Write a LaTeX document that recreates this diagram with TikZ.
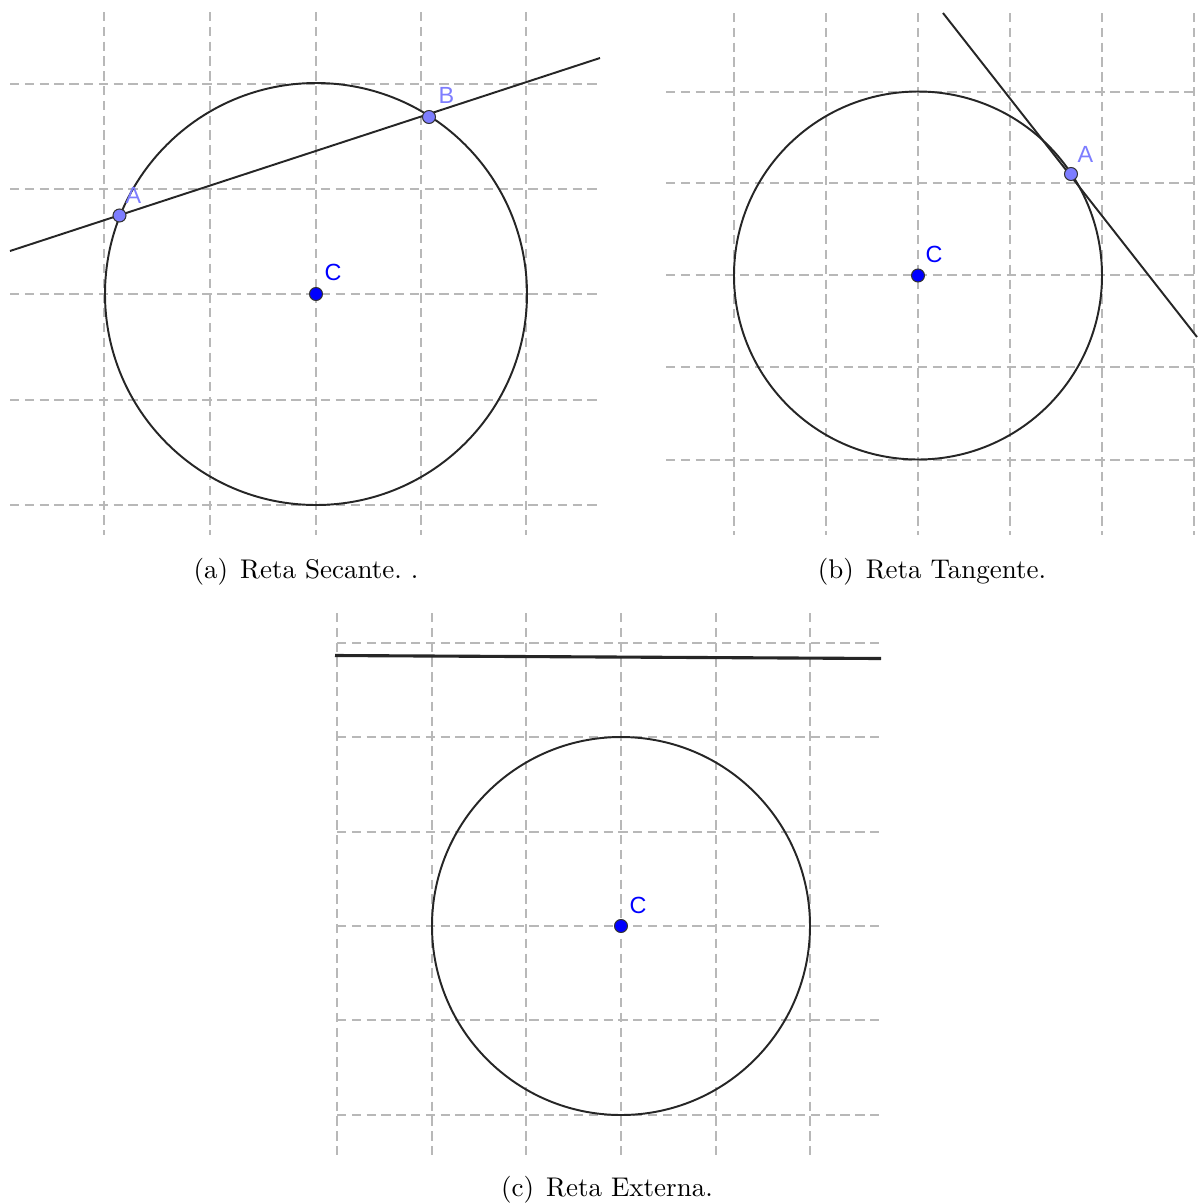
\documentclass[tikz,border=0pt]{standalone}
\usepackage{fontspec}
\newfontfamily\ggb{Liberation Sans}
\begin{document}
\begin{tikzpicture}[x=0.385pt,y=-0.385pt,
  gridline/.style={draw=black!28,line width=0.5pt,dash pattern=on 3.6pt off 2.1pt},
  circ/.style={draw=black!85,line width=0.75pt},
  rline/.style={draw=black!85,line width=0.75pt},
  ptdark/.style={circle,fill={rgb,255:red,0;green,0;blue,255},draw=black!80,line width=0.4pt,inner sep=0pt,minimum size=5pt},
  ptlight/.style={circle,fill={rgb,255:red,125;green,125;blue,255},draw=black!80,line width=0.4pt,inner sep=0pt,minimum size=5pt},
  lbldark/.style={font=\ggb\fontsize{9pt}{10pt}\selectfont,text={rgb,255:red,0;green,0;blue,255},inner sep=0pt},
  lbllight/.style={font=\ggb\fontsize{9pt}{10pt}\selectfont,text={rgb,255:red,125;green,125;blue,255},inner sep=0pt},
  captext/.style={font=\fontsize{10.4pt}{12pt}\selectfont,anchor=base,inner sep=0pt}]
\useasboundingbox (0,0) rectangle (1197,1203);
% ---------- panel (a)
\foreach \x in {104,210,316,421,526} \draw[gridline] (\x,12) -- (\x,535);
\foreach \y in {84,189,294,400,505} \draw[gridline] (10,\y) -- (600,\y);
\draw[circ] (316,294) circle[radius=211];
\coordinate (aL) at (10,251);
\coordinate (aR) at (600,58);
\draw[rline] (aL) -- (aR);
\node[ptlight] (aA) at (119.5,215.5) {};
\node[ptlight] (aB) at (429,117) {};
\node[ptdark] (aC) at (316,294) {};
\node[lbllight,anchor=base west] (laA) at (125,203) {A};
\node[lbllight,anchor=base west] (laB) at (438,103) {B};
\node[lbldark,anchor=base west] (laC) at (324,280) {C};
\node[captext] (capa) at (306,578) {(a)\hspace{4.6pt}Reta Secante.\ .};
% ---------- panel (b)
\foreach \x in {734,826,918,1010,1102,1194} \draw[gridline] (\x,13) -- (\x,535);
\foreach \y in {92,183,275,367,460} \draw[gridline] (666,\y) -- (1197,\y);
\draw[circ] (918,275.5) circle[radius=184];
\coordinate (bT) at (943,13);
\coordinate (bE) at (1197,337);
\draw[rline] (bT) -- (bE);
\node[ptlight] (bA) at (1071,174) {};
\node[lbllight,anchor=base west] (lbA) at (1077,162) {A};
\node[ptdark] (bC) at (918,275.5) {};
\node[lbldark,anchor=base west] (lbC) at (925,262) {C};
\node[captext] (capb) at (932,578) {(b)\hspace{4.6pt}Reta Tangente.};
% ---------- panel (c)
\foreach \x in {337,432,526,621,716,810} \draw[gridline] (\x,613) -- (\x,1158);
\foreach \y in {643,737,832,926,1020,1115} \draw[gridline] (337,\y) -- (881,\y);
\draw[circ] (621,926) circle[radius=189];
\coordinate (cL) at (335,655.5);
\coordinate (cR) at (881,658.5);
\draw[draw=black!85,line width=1.2pt] (cL) -- (cR);
\node[ptdark] (cC) at (621,926) {};
\node[lbldark,anchor=base west] (lcC) at (629,913) {C};
\node[captext] (capc) at (607,1196) {(c)\hspace{4.6pt}Reta Externa.};
\end{tikzpicture}
\end{document}
